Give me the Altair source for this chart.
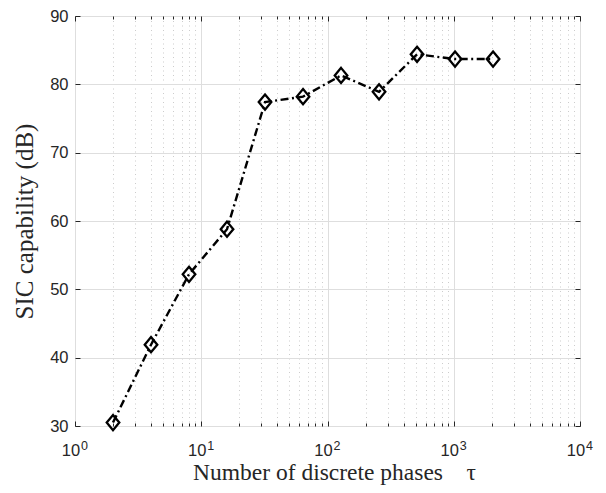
import altair as alt
import pandas as pd

# ---- data ----
phases = [2, 4, 8, 16, 32, 64, 128, 256, 512, 1024, 2048]
sic_db = [30.5, 41.9, 52.2, 58.8, 77.4, 78.2, 81.3, 78.9, 84.4, 83.7, 83.7]

x_major = [1, 10, 100, 1000, 10000]
x_major_base = ["10", "10", "10", "10", "10"]
x_major_exp = ["0", "1", "2", "3", "4"]
x_minor = [2, 3, 4, 5, 6, 7, 8, 9,
           20, 30, 40, 50, 60, 70, 80, 90,
           200, 300, 400, 500, 600, 700, 800, 900,
           2000, 3000, 4000, 5000, 6000, 7000, 8000, 9000]
y_ticks = [30, 40, 50, 60, 70, 80, 90]

x_title = "Number of discrete phases \u00a0\u00a0\u00a0τ"
y_title = "SIC capability (dB)"

df = pd.DataFrame({"phases": phases, "sic": sic_db})

W, H = 505, 410
TOP = 8
AX = "#262626"
TICK_FONT = "Liberation Sans"
TITLE_FONT = "Liberation Serif"

xscale = alt.Scale(type="log", domain=[1, 10000], nice=False)
yscale = alt.Scale(domain=[30, 90], nice=False, zero=False)

exp_expr = "round(log(datum.value)/LN10)"
major_test = f"abs(log(datum.value)/LN10 - {exp_expr}) < 1e-6"


def arr(lst):
    return "[" + ",".join(f"'{s}'" for s in lst) + "]"


base_label_expr = f"({major_test}) ? {arr(x_major_base)}[{exp_expr}] : ''"
exp_label_expr = f"({major_test}) ? {arr(x_major_exp)}[{exp_expr}] : ''"

base = alt.Chart(df)

# layer 1: line, with "10" labels, titles and grids
line = base.mark_line(color="black", strokeWidth=2.4, strokeDash=[8, 3.5, 2, 3.5]).encode(
    x=alt.X("phases:Q", scale=xscale,
            axis=alt.Axis(orient="bottom", values=sorted(x_major + x_minor),
                          labelExpr=base_label_expr, labelFont=TICK_FONT, labelFontSize=16.5,
                          labelColor=AX, labelPadding=29, labelBaseline="alphabetic",
                          labelAlign="center", labelOffset=-4.5,
                          labelFlush=False, labelOverlap=False, labelBound=False,
                          ticks=False, domain=False,
                          grid=True,
                          gridColor={"condition": {"test": major_test, "value": "#dedede"}, "value": "#cccccc"},
                          gridDash={"condition": {"test": major_test, "value": []}, "value": [1, 3.5]},
                          gridWidth=1,
                          title=x_title, titleFont=TITLE_FONT,
                          titleFontSize=23.5, titleFontWeight="normal", titleColor=AX,
                          titleBaseline="alphabetic", titleAlign="center",
                          titleX=259, titleY=53)),
    y=alt.Y("sic:Q", scale=yscale,
            axis=alt.Axis(orient="left", values=y_ticks, labelFont=TICK_FONT, labelFontSize=16.5,
                          labelColor=AX, labelPadding=7, labelFlush=False,
                          ticks=False, domain=False, grid=True, gridColor="#dedede",
                          title=y_title, titleFont=TITLE_FONT, titleFontSize=25,
                          titleFontWeight="normal", titleColor=AX, titleAngle=270,
                          titleBaseline="alphabetic", titleAlign="center",
                          titleX=-43, titleY=H / 2)),
)

diamond = "M0,-1L0.83,0L0,1L-0.83,0Z"

# layer 2: diamonds + bottom major ticks + left ticks (inward)
points = base.mark_point(shape=diamond, size=230, filled=False, color="black",
                         strokeWidth=2.3, opacity=1).encode(
    x=alt.X("phases:Q", scale=xscale,
            axis=alt.Axis(orient="bottom", values=x_major, labels=False, grid=False,
                          domain=False, tickSize=5, offset=-5, tickColor=AX, title=None)),
    y=alt.Y("sic:Q", scale=yscale,
            axis=alt.Axis(orient="left", values=y_ticks, labels=False, grid=False,
                          domain=False, tickSize=5, offset=-5, tickColor=AX, title=None)),
)

ghost = base.mark_point(opacity=0)

# layer 3: bottom minor ticks + right ticks
l3 = ghost.encode(
    x=alt.X("phases:Q", scale=xscale,
            axis=alt.Axis(orient="bottom", values=x_minor, labels=False, grid=False,
                          domain=False, tickSize=3, offset=-3, tickColor=AX, title=None)),
    y=alt.Y("sic:Q", scale=yscale,
            axis=alt.Axis(orient="right", values=y_ticks, labels=False, grid=False,
                          domain=False, tickSize=5, offset=-5, tickColor=AX, title=None)),
)

# layer 4: top major ticks
l4 = ghost.encode(
    x=alt.X("phases:Q", scale=xscale,
            axis=alt.Axis(orient="top", values=x_major, labels=False, grid=False,
                          domain=False, tickSize=5, offset=-5, tickColor=AX, title=None)),
    y=alt.Y("sic:Q", scale=yscale, axis=None),
)

# layer 5: top minor ticks
l5 = ghost.encode(
    x=alt.X("phases:Q", scale=xscale,
            axis=alt.Axis(orient="top", values=x_minor, labels=False, grid=False,
                          domain=False, tickSize=3, offset=-3, tickColor=AX, title=None)),
    y=alt.Y("sic:Q", scale=yscale, axis=None),
)

# layer 6: exponent (superscript) labels
l6 = ghost.encode(
    x=alt.X("phases:Q", scale=xscale,
            axis=alt.Axis(orient="bottom", values=x_major, labelExpr=exp_label_expr,
                          labelFont=TICK_FONT, labelFontSize=12.5, labelColor=AX,
                          labelPadding=23, labelBaseline="alphabetic", labelAlign="left",
                          labelOffset=5.5, labelFlush=False, labelOverlap=False, labelBound=False,
                          ticks=False, grid=False, domain=False, title=None)),
    y=alt.Y("sic:Q", scale=yscale, axis=None),
)

chart = alt.layer(line, points, l3, l4, l5, l6).resolve_axis(
    x="independent", y="independent"
).properties(
    width=W, height=H,
    autosize=alt.AutoSizeParams(type="none"),
    padding={"left": 67, "top": TOP, "right": 18, "bottom": 477 - TOP - H},
    background="white",
).configure_view(stroke=AX, strokeWidth=1)

chart.save("out.html", embed_options={"renderer": "svg", "actions": False})
